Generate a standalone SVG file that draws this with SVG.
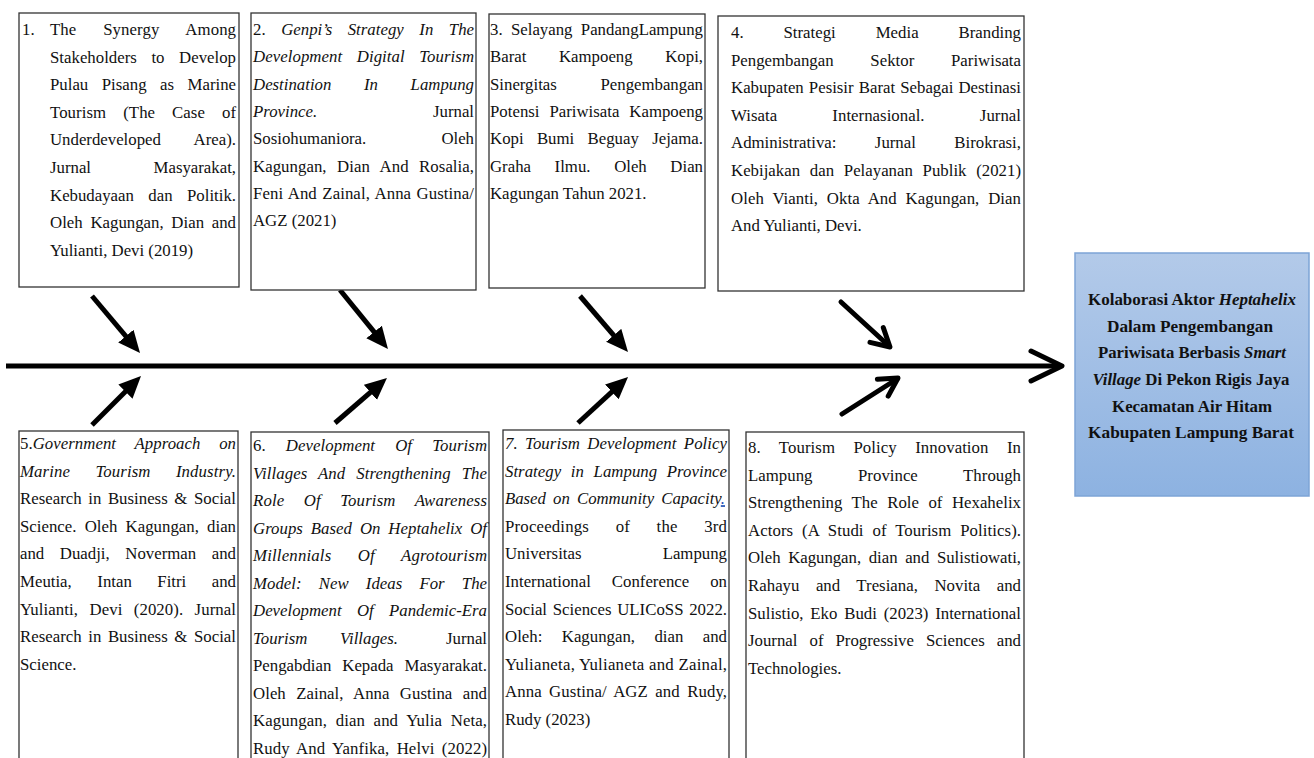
<svg xmlns="http://www.w3.org/2000/svg" width="1314" height="758" viewBox="0 0 1314 758">
<style>
.t{font-family:"Liberation Serif","Times New Roman",serif;font-size:16.8px;fill:#111}
.i{font-style:italic}
.e{text-anchor:end}
.box{fill:#fff;stroke:#333;stroke-width:1.3}
.b{font-family:"Liberation Serif","Times New Roman",serif;font-size:16.5px;font-weight:bold;fill:#111;text-anchor:middle}
.ln{stroke:#000;stroke-width:5;fill:none}
.hd{fill:#000}
.ov{stroke:#000;stroke-width:5;fill:none;stroke-linecap:round;stroke-linejoin:round}
</style>
<defs>
<linearGradient id="bg" x1="0" y1="0" x2="0" y2="1">
<stop offset="0" stop-color="#b3cae9"/>
<stop offset="1" stop-color="#8db2e1"/>
</linearGradient>
<marker id="ah" markerUnits="userSpaceOnUse" markerWidth="24" markerHeight="22" viewBox="0 -11 24 22" refX="10" refY="0" orient="auto">
<path d="M0,-10 L22,0 L0,10 Z" class="hd"/>
</marker>
</defs>
<rect width="1314" height="758" fill="#fff"/>

<g id="connectors">
<line class="ln" x1="6" y1="366" x2="1058" y2="366" stroke-width="6"/>
<polyline class="ov" points="1031,351 1062,366 1031,381" stroke-width="6"/>
<line class="ln" x1="92" y1="296" x2="132.3" y2="343.8" marker-end="url(#ah)"/>
<line class="ln" x1="340" y1="290" x2="380.4" y2="339.7" marker-end="url(#ah)"/>
<line class="ln" x1="580" y1="296" x2="620.2" y2="342.9" marker-end="url(#ah)"/>
<line class="ln" x1="92" y1="425" x2="132.5" y2="384.5" marker-end="url(#ah)"/>
<line class="ln" x1="335" y1="423" x2="377.9" y2="385.8" marker-end="url(#ah)"/>
<line class="ln" x1="578" y1="423" x2="619.2" y2="385.1" marker-end="url(#ah)"/>
<line class="ov" x1="841" y1="302" x2="889" y2="346"/>
<polyline class="ov" points="870,342.4 890,347 883.3,327.6"/>
<line class="ov" x1="842" y1="414" x2="897" y2="379"/>
<polyline class="ov" points="877.4,379.3 898,378 888.2,396.1"/>
</g>

<g id="node1">
<rect class="box" x="19" y="13" width="220" height="274"/>
<text class="t" x="22" y="35">1.</text>
<text class="t" x="50" y="35" word-spacing="22.5" textLength="186" lengthAdjust="spacing">The Synergy Among</text>
<text class="t" x="50" y="62.6" word-spacing="10.4" textLength="186" lengthAdjust="spacing">Stakeholders to Develop</text>
<text class="t" x="50" y="90.2" word-spacing="9.3" textLength="186" lengthAdjust="spacing">Pulau Pisang as Marine</text>
<text class="t" x="50" y="117.8" word-spacing="12.7" textLength="186" lengthAdjust="spacing">Tourism (The Case of</text>
<text class="t" x="50" y="145.4">Underdeveloped</text><text class="t e" x="236" y="145.4">Area).</text>
<text class="t" x="50" y="173">Jurnal</text><text class="t e" x="236" y="173">Masyarakat,</text>
<text class="t" x="50" y="200.6" word-spacing="10.2" textLength="186" lengthAdjust="spacing">Kebudayaan dan Politik.</text>
<text class="t" x="50" y="228.2" word-spacing="3.5" textLength="186" lengthAdjust="spacing">Oleh Kagungan, Dian and</text>
<text class="t" x="50" y="255.8">Yulianti, Devi (2019)</text>
</g>

<g id="node2">
<rect class="box" x="251" y="13" width="225" height="277"/>
<text class="t" x="253" y="35" word-spacing="11.3" textLength="221" lengthAdjust="spacing">2. <tspan class="i">Genpi’s Strategy In The</tspan></text>
<text class="t i" x="253" y="62.3" word-spacing="10.2" textLength="221" lengthAdjust="spacing">Development Digital Tourism</text>
<text class="t i" x="253" y="89.6" word-spacing="28.4" textLength="221" lengthAdjust="spacing">Destination In Lampung</text>
<text class="t i" x="253" y="116.9">Province.</text><text class="t e" x="474" y="116.9">Jurnal</text>
<text class="t" x="253" y="144.2">Sosiohumaniora.</text><text class="t e" x="474" y="144.2">Oleh</text>
<text class="t" x="253" y="171.5" word-spacing="6.3" textLength="221" lengthAdjust="spacing">Kagungan, Dian And Rosalia,</text>
<text class="t" x="253" y="198.8" word-spacing="1.2" textLength="221" lengthAdjust="spacing">Feni And Zainal, Anna Gustina/</text>
<text class="t" x="253" y="226.1">AGZ (2021)</text>
</g>

<g id="node3">
<rect class="box" x="489" y="14" width="216" height="274"/>
<text class="t" x="490" y="35" word-spacing="4.1" textLength="213" lengthAdjust="spacing">3. Selayang PandangLampung</text>
<text class="t" x="490" y="62.3" word-spacing="28.4" textLength="213" lengthAdjust="spacing">Barat Kampoeng Kopi,</text>
<text class="t" x="490" y="89.6">Sinergitas</text><text class="t e" x="703" y="89.6">Pengembangan</text>
<text class="t" x="490" y="116.9" word-spacing="5.7" textLength="213" lengthAdjust="spacing">Potensi Pariwisata Kampoeng</text>
<text class="t" x="490" y="144.2" word-spacing="9.1" textLength="213" lengthAdjust="spacing">Kopi Bumi Beguay Jejama.</text>
<text class="t" x="490" y="171.5" word-spacing="19.4" textLength="213" lengthAdjust="spacing">Graha Ilmu. Oleh Dian</text>
<text class="t" x="490" y="198.8">Kagungan Tahun 2021.</text>
</g>

<g id="node4">
<rect class="box" x="718" y="16" width="306" height="275"/>
<text class="t" x="731" y="38" word-spacing="35.7" textLength="290" lengthAdjust="spacing">4. Strategi Media Branding</text>
<text class="t" x="731" y="65.6" word-spacing="32.6" textLength="290" lengthAdjust="spacing">Pengembangan Sektor Pariwisata</text>
<text class="t" x="731" y="93.2" word-spacing="0.9" textLength="290" lengthAdjust="spacing">Kabupaten Pesisir Barat Sebagai Destinasi</text>
<text class="t" x="731" y="120.8" word-spacing="51" textLength="290" lengthAdjust="spacing">Wisata Internasional. Jurnal</text>
<text class="t" x="731" y="148.4" word-spacing="34.2" textLength="290" lengthAdjust="spacing">Administrativa: Jurnal Birokrasi,</text>
<text class="t" x="731" y="176" word-spacing="5.5" textLength="290" lengthAdjust="spacing">Kebijakan dan Pelayanan Publik (2021)</text>
<text class="t" x="731" y="203.6" word-spacing="4.5" textLength="290" lengthAdjust="spacing">Oleh Vianti, Okta And Kagungan, Dian</text>
<text class="t" x="731" y="231.2">And Yulianti, Devi.</text>
</g>

<g id="node5">
<rect class="box" x="19" y="431" width="219" height="340"/>
<text class="t" x="20" y="449" word-spacing="14.5" textLength="216" lengthAdjust="spacing">5.<tspan class="i">Government Approach on</tspan></text>
<text class="t i" x="20" y="476.6" word-spacing="21" textLength="216" lengthAdjust="spacing">Marine Tourism Industry.</text>
<text class="t" x="20" y="504.2" word-spacing="2.4" textLength="216" lengthAdjust="spacing">Research in Business &amp; Social</text>
<text class="t" x="20" y="531.8" word-spacing="4" textLength="216" lengthAdjust="spacing">Science. Oleh Kagungan, dian</text>
<text class="t" x="20" y="559.4" word-spacing="11.3" textLength="216" lengthAdjust="spacing">and Duadji, Noverman and</text>
<text class="t" x="20" y="587" word-spacing="21.3" textLength="216" lengthAdjust="spacing">Meutia, Intan Fitri and</text>
<text class="t" x="20" y="614.6" word-spacing="7.1" textLength="216" lengthAdjust="spacing">Yulianti, Devi (2020). Jurnal</text>
<text class="t" x="20" y="642.2" word-spacing="2.4" textLength="216" lengthAdjust="spacing">Research in Business &amp; Social</text>
<text class="t" x="20" y="669.8">Science.</text>
</g>

<g id="node6">
<rect class="box" x="251" y="432" width="238" height="340"/>
<text class="t" x="253" y="451" word-spacing="15.8" textLength="234" lengthAdjust="spacing">6. <tspan class="i">Development Of Tourism</tspan></text>
<text class="t i" x="253" y="478.5" word-spacing="6.6" textLength="234" lengthAdjust="spacing">Villages And Strengthening The</text>
<text class="t i" x="253" y="506" word-spacing="15" textLength="234" lengthAdjust="spacing">Role Of Tourism Awareness</text>
<text class="t i" x="253" y="533.5" word-spacing="3.7" textLength="234" lengthAdjust="spacing">Groups Based On Heptahelix Of</text>
<text class="t i" x="253" y="561" word-spacing="22" textLength="234" lengthAdjust="spacing">Millennials Of Agrotourism</text>
<text class="t i" x="253" y="588.5" word-spacing="13" textLength="234" lengthAdjust="spacing">Model: New Ideas For The</text>
<text class="t i" x="253" y="616" word-spacing="11.1" textLength="234" lengthAdjust="spacing">Development Of Pandemic-Era</text>
<text class="t i" x="253" y="643.5">Tourism</text><text class="t i" x="340" y="643.5">Villages.</text><text class="t e" x="487" y="643.5">Jurnal</text>
<text class="t" x="253" y="671" word-spacing="6.7" textLength="234" lengthAdjust="spacing">Pengabdian Kepada Masyarakat.</text>
<text class="t" x="253" y="698.5" word-spacing="6.1" textLength="234" lengthAdjust="spacing">Oleh Zainal, Anna Gustina and</text>
<text class="t" x="253" y="726" word-spacing="4.4" textLength="234" lengthAdjust="spacing">Kagungan, dian and Yulia Neta,</text>
<text class="t" x="253" y="753.5" word-spacing="2.9" textLength="234" lengthAdjust="spacing">Rudy And Yanfika, Helvi (2022)</text>
</g>

<g id="node7">
<rect class="box" x="503" y="430" width="226" height="340"/>
<text class="t i" x="505" y="449" word-spacing="3.1" textLength="222" lengthAdjust="spacing">7. Tourism Development Policy</text>
<text class="t i" x="505" y="476.6" word-spacing="5.4" textLength="222" lengthAdjust="spacing">Strategy in Lampung Province</text>
<text class="t i" x="505" y="504.2" word-spacing="3" textLength="220" lengthAdjust="spacing">Based on Community Capacity<tspan fill="#1f4fb4" text-decoration="underline">.</tspan></text>
<text class="t" x="505" y="531.8" word-spacing="22.2" textLength="222" lengthAdjust="spacing">Proceedings of the 3rd</text>
<text class="t" x="505" y="559.4">Universitas</text><text class="t e" x="727" y="559.4">Lampung</text>
<text class="t" x="505" y="587" word-spacing="16.8" textLength="222" lengthAdjust="spacing">International Conference on</text>
<text class="t" x="505" y="614.6" word-spacing="1.5" textLength="222" lengthAdjust="spacing">Social Sciences ULICoSS 2022.</text>
<text class="t" x="505" y="642.2" word-spacing="15.2" textLength="222" lengthAdjust="spacing">Oleh: Kagungan, dian and</text>
<text class="t" x="505" y="669.8" word-spacing="0" textLength="222" lengthAdjust="spacing">Yulianeta, Yulianeta and Zainal,</text>
<text class="t" x="505" y="697.4" word-spacing="3.1" textLength="222" lengthAdjust="spacing">Anna Gustina/ AGZ and Rudy,</text>
<text class="t" x="505" y="725">Rudy (2023)</text>
</g>

<g id="node8">
<rect class="box" x="746" y="432" width="278" height="340"/>
<text class="t" x="748" y="453" word-spacing="14.2" textLength="273" lengthAdjust="spacing">8. Tourism Policy Innovation In</text>
<text class="t" x="748" y="480.6" word-spacing="41.3" textLength="273" lengthAdjust="spacing">Lampung Province Through</text>
<text class="t" x="748" y="508.2" word-spacing="5.25" textLength="273" lengthAdjust="spacing">Strengthening The Role of Hexahelix</text>
<text class="t" x="748" y="535.8" word-spacing="4.6" textLength="273" lengthAdjust="spacing">Actors (A Studi of Tourism Politics).</text>
<text class="t" x="748" y="563.4" word-spacing="3.5" textLength="273" lengthAdjust="spacing">Oleh Kagungan, dian and Sulistiowati,</text>
<text class="t" x="748" y="591" word-spacing="12.2" textLength="273" lengthAdjust="spacing">Rahayu and Tresiana, Novita and</text>
<text class="t" x="748" y="618.6" word-spacing="2.6" textLength="273" lengthAdjust="spacing">Sulistio, Eko Budi (2023) International</text>
<text class="t" x="748" y="646.2" word-spacing="7.8" textLength="273" lengthAdjust="spacing">Journal of Progressive Sciences and</text>
<text class="t" x="748" y="673.8">Technologies.</text>
</g>

<g id="result">
<rect x="1075" y="253" width="234" height="243" fill="url(#bg)" stroke="#7da4d6" stroke-width="1.5"/>
<text class="b" x="1192" y="305" textLength="208" lengthAdjust="spacingAndGlyphs">Kolaborasi Aktor <tspan font-style="italic">Heptahelix</tspan></text>
<text class="b" x="1190" y="332" textLength="166" lengthAdjust="spacingAndGlyphs">Dalam Pengembangan</text>
<text class="b" x="1192" y="358" textLength="188" lengthAdjust="spacingAndGlyphs">Pariwisata Berbasis <tspan font-style="italic">Smart</tspan></text>
<text class="b" x="1191" y="385" textLength="197" lengthAdjust="spacingAndGlyphs"><tspan font-style="italic">Village</tspan> Di Pekon Rigis Jaya</text>
<text class="b" x="1192" y="412" textLength="160" lengthAdjust="spacingAndGlyphs">Kecamatan Air Hitam</text>
<text class="b" x="1191" y="438" textLength="206" lengthAdjust="spacingAndGlyphs">Kabupaten Lampung Barat</text>
</g>
</svg>
